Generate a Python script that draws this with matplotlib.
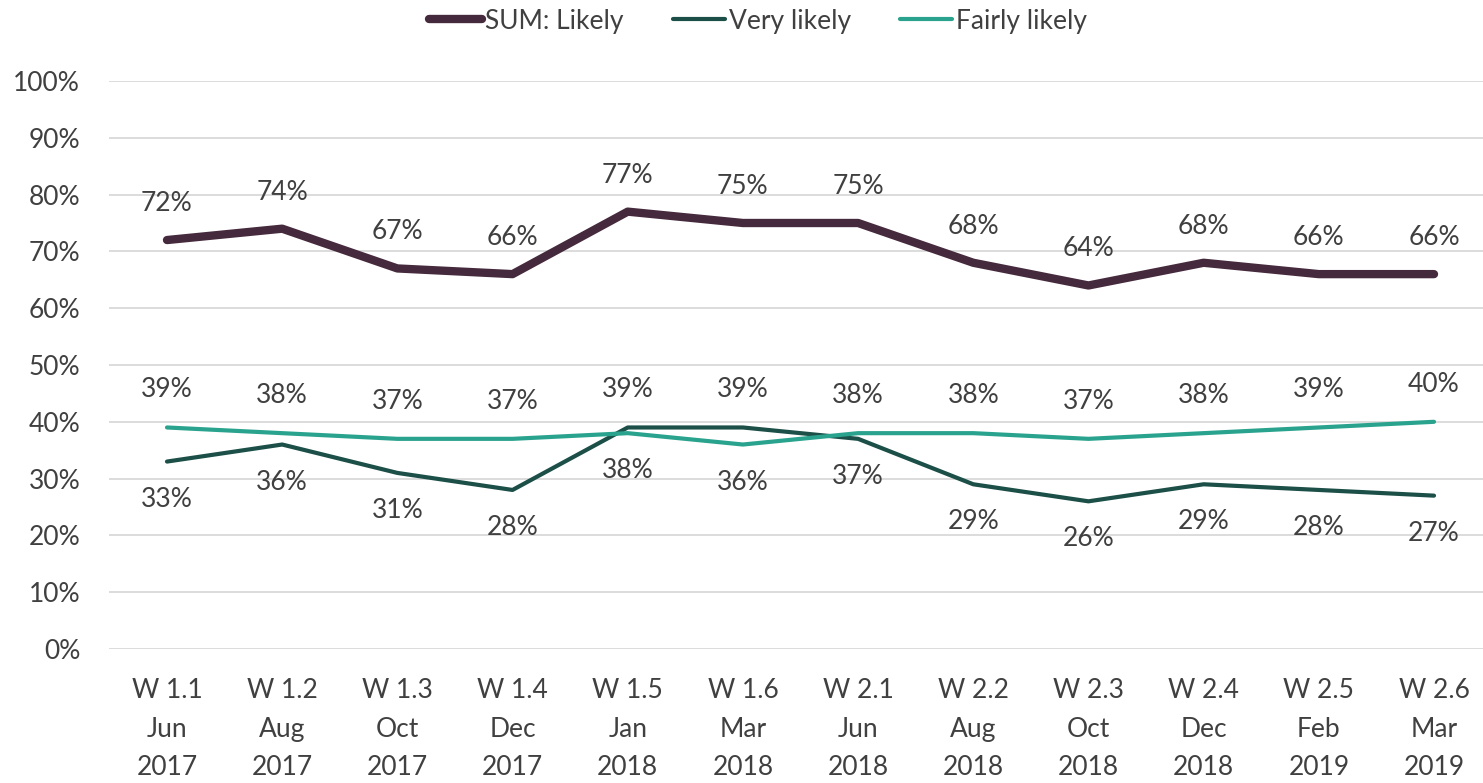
import matplotlib
matplotlib.use("Agg")
import matplotlib.pyplot as plt
from matplotlib.ticker import FuncFormatter

plt.rcParams['font.family'] = ['Lato', 'DejaVu Sans']

waves = ["W 1.1\nJun\n2017", "W 1.2\nAug\n2017", "W 1.3\nOct\n2017", "W 1.4\nDec\n2017",
         "W 1.5\nJan\n2018", "W 1.6\nMar\n2018", "W 2.1\nJun\n2018", "W 2.2\nAug\n2018",
         "W 2.3\nOct\n2018", "W 2.4\nDec\n2018", "W 2.5\nFeb\n2019", "W 2.6\nMar\n2019"]
sum_likely = [72, 74, 67, 66, 77, 75, 75, 68, 64, 68, 66, 66]
very_likely = [33, 36, 31, 28, 39, 39, 37, 29, 26, 29, 28, 27]
fairly_likely = [39, 38, 37, 37, 38, 36, 38, 38, 37, 38, 39, 40]

C_SUM = "#45293c"
C_VERY = "#1b4f47"
C_FAIR = "#2aa38e"
TXT = "#404040"

fig = plt.figure(figsize=(14.83, 7.83), dpi=100)
ax = fig.add_axes([109.4 / 1483, 1 - 649 / 783, 1 - 109.4 / 1483, (649 - 81) / 783])

x = list(range(len(waves)))
ax.plot(x, sum_likely, color=C_SUM, lw=6, solid_capstyle='round', solid_joinstyle='round', label="SUM: Likely", zorder=3)
ax.plot(x, very_likely, color=C_VERY, lw=3, solid_capstyle='round', label="Very likely", zorder=3)
ax.plot(x, fairly_likely, color=C_FAIR, lw=3, solid_capstyle='round', label="Fairly likely", zorder=3)

fs = 19
off = 36.5 * 0.72  # points
for i, v in enumerate(sum_likely):
    ax.annotate(f"{v}%", (i, v), xytext=(0, off), textcoords="offset points",
                ha="center", va="center", fontsize=fs, color=TXT)
for i in x:
    v, f = very_likely[i], fairly_likely[i]
    sv = 1 if v > f else -1
    ax.annotate(f"{v}%", (i, v), xytext=(0, sv * (off + 0.8)), textcoords="offset points",
                ha="center", va="center", fontsize=fs, color=TXT)
    ax.annotate(f"{f}%", (i, f), xytext=(0, -sv * (off + 0.8)), textcoords="offset points",
                ha="center", va="center", fontsize=fs, color=TXT)

ax.set_ylim(0, 100)
ax.set_xlim(-0.5, 11.5 - 8.6 / 115.2)
ax.set_yticks(range(0, 101, 10))
ax.yaxis.set_major_formatter(FuncFormatter(lambda v, p: f"{int(v)}%"))
ax.set_xticks(x)
ax.set_xticklabels(waves, linespacing=1.68)
ax.tick_params(axis='both', length=0, labelsize=fs, colors=TXT)
ax.tick_params(axis='x', pad=21)
ax.tick_params(axis='y', pad=21)
ax.grid(axis='y', color='#d9d9d9', lw=1.3)
ax.set_axisbelow(True)
for s in ax.spines.values():
    s.set_visible(False)

leg = fig.legend(loc='center', bbox_to_anchor=(758 / 1483, 1 - 21 / 783), ncol=3, frameon=False,
                 fontsize=fs, handlelength=2.0, handletextpad=0.12, columnspacing=1.85,
                 labelcolor=TXT)
fig.savefig("out.png", dpi=100)
